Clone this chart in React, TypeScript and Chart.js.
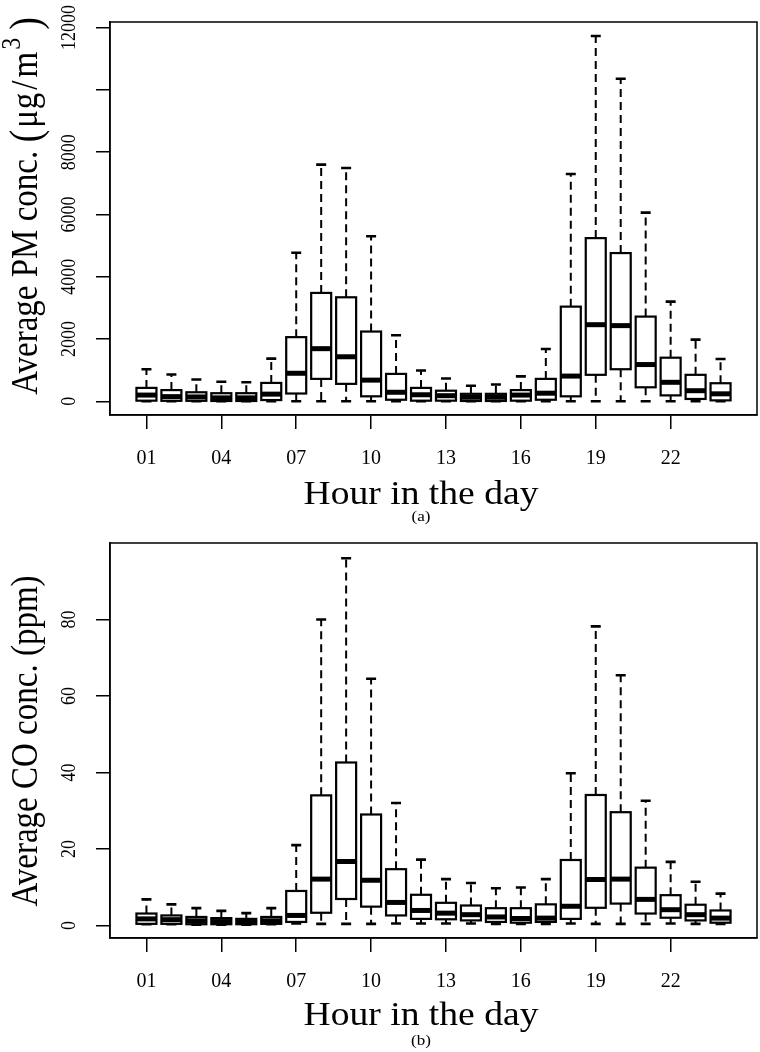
import React, { useEffect, useRef } from 'react';
import { Chart, registerables } from 'chart.js';

Chart.register(...registerables);

// ---------- data ----------
const hours = [1, 2, 3, 4, 5, 6, 7, 8, 9, 10, 11, 12, 13, 14, 15, 16, 17, 18, 19, 20, 21, 22, 23, 24];
const xTickHours = [1, 4, 7, 10, 13, 16, 19, 22];

// (a) PM concentration (µg/m3)
const pmMin = [0, 0, 0, 0, 0, 0, 0, 0, 0, 0, 0, 0, 0, 0, 0, 0, 0, 0, 0, 0, 0, 0, 0, 0];
const pmQ1 = [20, 15, 15, 10, 10, 40, 250, 720, 560, 160, 50, 20, 20, 10, 10, 20, 50, 160, 850, 1030, 450, 190, 75, 30];
const pmMedian = [200, 150, 140, 110, 110, 230, 900, 1690, 1430, 680, 290, 210, 180, 130, 130, 200, 260, 810, 2460, 2430, 1180, 610, 340, 240];
const pmQ3 = [430, 360, 290, 260, 260, 590, 2060, 3480, 3340, 2240, 880, 430, 340, 240, 240, 360, 720, 3040, 5240, 4760, 2720, 1400, 850, 580];
const pmMax = [1030, 860, 700, 630, 610, 1370, 4770, 7600, 7490, 5300, 2120, 990, 730, 500, 540, 800, 1680, 7300, 11730, 10360, 6060, 3200, 1980, 1360];
const pmTicks = [0, 2000, 4000, 6000, 8000, 10000, 12000];
const pmTickLabels = ['0', '2000', '4000', '6000', '8000', '', '12000'];

// (b) CO concentration (ppm)
const coMin = [0.3, 0.3, 0.2, 0.2, 0.2, 0.3, 0.5, 0.4, 0.4, 0.4, 0.5, 0.5, 0.5, 0.5, 0.4, 0.4, 0.4, 0.5, 0.4, 0.4, 0.4, 0.5, 0.4, 0.4];
const coQ1 = [0.4, 0.4, 0.3, 0.3, 0.3, 0.4, 0.9, 3.3, 6.9, 4.9, 2.6, 1.7, 1.6, 1.3, 0.9, 0.7, 0.9, 1.7, 4.6, 5.7, 3.1, 2.0, 1.3, 0.7];
const coMedian = [1.7, 1.5, 1.2, 1.0, 0.9, 1.2, 2.6, 12.1, 16.7, 11.8, 6.0, 3.9, 3.2, 2.8, 2.2, 1.8, 1.9, 5.0, 12.0, 12.1, 6.8, 4.1, 2.8, 1.9];
const coQ3 = [3.1, 2.6, 2.2, 1.9, 1.7, 2.2, 9.0, 34.0, 42.6, 29.0, 14.7, 8.0, 5.9, 5.2, 4.5, 4.5, 5.5, 17.1, 34.1, 29.6, 15.1, 7.9, 5.4, 3.9];
const coMax = [6.8, 5.5, 4.5, 3.8, 3.2, 4.5, 21.0, 80.0, 96.0, 64.5, 32.0, 17.2, 12.1, 11.1, 9.7, 9.9, 12.1, 39.8, 78.2, 65.4, 32.6, 16.6, 11.4, 8.3];
const coTicks = [0, 20, 40, 60, 80];
const coTickLabels = ['0', '20', '40', '60', '80'];

const xTitle = 'Hour in the day';
const FONT = '"Liberation Serif", "Times New Roman", serif';
const HSTRETCH = 1.14;

// title pieces: [text, fontSize, gapBefore, raise]
type Piece = [string, number, number, number];
const pmTitlePieces: Piece[] = [
  ['Average PM conc. ', 33, 0, 0],
  ['(', 38, 0, 1],
  ['μ', 33, 2, 0],
  ['g', 33, 1, 0],
  ['/', 33, 3, 0],
  ['m', 33, 3, 0],
  ['3', 24, 2, -12],
  [')', 38, 8, 1],
];
const coTitlePieces: Piece[] = [['Average CO conc. (ppm)', 33, 0, 0]];

type Panel = {
  min: number[]; q1: number[]; med: number[]; q3: number[]; max: number[];
  yMin: number; yMax: number; ticks: number[]; tickLabels: string[];
  title: Piece[]; sub: string;
  padTop: number; xAxisHeight: number; titleY: number; subY: number; yTitleCenter: number;
};

const panels: Panel[] = [
  {
    min: pmMin, q1: pmQ1, med: pmMedian, q3: pmQ3, max: pmMax,
    yMin: -440, yMax: 12180, ticks: pmTicks, tickLabels: pmTickLabels,
    title: pmTitlePieces, sub: '(a)',
    padTop: 22, xAxisHeight: 111, titleY: 495, subY: 517, yTitleCenter: 206,
  },
  {
    min: coMin, q1: coQ1, med: coMedian, q3: coQ3, max: coMax,
    yMin: -3.3, yMax: 100, ticks: coTicks, tickLabels: coTickLabels,
    title: coTitlePieces, sub: '(b)',
    padTop: 17, xAxisHeight: 114, titleY: 490, subY: 515, yTitleCenter: 215,
  },
];

function BoxChart({ p }: { p: Panel }) {
  const ref = useRef<HTMLCanvasElement>(null);
  useEffect(() => {
    if (!ref.current) return;
    const boxPlugin = {
      id: 'boxparts',
      afterDatasetsDraw(chart: any) {
        const ctx = chart.ctx;
        const xs = chart.scales.x;
        const ys = chart.scales.y;
        ctx.save();
        ctx.strokeStyle = '#000';
        hours.forEach((h, i) => {
          const x = xs.getPixelForValue(h);
          const yq1 = ys.getPixelForValue(p.q1[i]);
          const yq3 = ys.getPixelForValue(p.q3[i]);
          const ymin = ys.getPixelForValue(p.min[i]);
          const ymax = ys.getPixelForValue(p.max[i]);
          const ymed = ys.getPixelForValue(p.med[i]);
          ctx.lineWidth = 2;
          ctx.setLineDash([8, 5]);
          ctx.beginPath();
          ctx.moveTo(x, yq3);
          ctx.lineTo(x, ymax);
          ctx.moveTo(x, yq1);
          ctx.lineTo(x, ymin);
          ctx.stroke();
          ctx.setLineDash([]);
          ctx.lineWidth = 2.6;
          ctx.beginPath();
          ctx.moveTo(x - 5, ymax);
          ctx.lineTo(x + 5, ymax);
          ctx.moveTo(x - 5, ymin);
          ctx.lineTo(x + 5, ymin);
          ctx.stroke();
          ctx.lineWidth = 2.2;
          ctx.strokeRect(x - 10, yq3, 20, yq1 - yq3);
          ctx.lineWidth = 5;
          ctx.beginPath();
          ctx.moveTo(x - 10, ymed);
          ctx.lineTo(x + 10, ymed);
          ctx.stroke();
        });
        ctx.restore();
      },
      afterDraw(chart: any) {
        const ctx = chart.ctx;
        const a = chart.chartArea;
        const ys = chart.scales.y;
        ctx.save();
        ctx.strokeStyle = '#000';
        ctx.fillStyle = '#000';
        ctx.lineWidth = 1.5;
        ctx.strokeRect(a.left, a.top, a.right - a.left, a.bottom - a.top);
        ctx.font = `18px ${FONT}`;
        ctx.textAlign = 'center';
        ctx.textBaseline = 'middle';
        p.ticks.forEach((v, i) => {
          const lbl = p.tickLabels[i];
          if (!lbl) return;
          const y = ys.getPixelForValue(v);
          ctx.save();
          ctx.translate(a.left - 40, y);
          ctx.rotate(-Math.PI / 2);
          ctx.scale(1, HSTRETCH);
          ctx.fillText(lbl, 0, 0);
          ctx.restore();
        });
        // y title
        ctx.save();
        ctx.translate(27, p.yTitleCenter);
        ctx.rotate(-Math.PI / 2);
        ctx.scale(1, HSTRETCH);
        ctx.textAlign = 'left';
        let total = 0;
        p.title.forEach(([t, fs, gap]) => {
          ctx.font = `${fs}px ${FONT}`;
          total += gap + ctx.measureText(t).width;
        });
        let sx = -total / 2;
        p.title.forEach(([t, fs, gap, raise]) => {
          ctx.font = `${fs}px ${FONT}`;
          sx += gap;
          ctx.fillText(t, sx, raise);
          sx += ctx.measureText(t).width;
        });
        ctx.restore();
        // x title and panel label
        const cx = 421;
        ctx.textAlign = 'center';
        ctx.textBaseline = 'middle';
        ctx.save();
        ctx.translate(cx, p.titleY);
        ctx.scale(HSTRETCH, 1);
        ctx.font = `33px ${FONT}`;
        ctx.fillText(xTitle, 0, 0);
        ctx.restore();
        ctx.save();
        ctx.translate(cx, p.subY);
        ctx.scale(HSTRETCH, 1);
        ctx.font = `15px ${FONT}`;
        ctx.fillText(p.sub, 0, 0);
        ctx.restore();
        ctx.restore();
      },
    };

    const chart = new Chart(ref.current, {
      type: 'bar',
      data: {
        datasets: [
          {
            data: hours.map((h, i) => ({ x: h, y: [p.q1[i], p.q3[i]] })) as any,
            backgroundColor: '#ffffff',
            borderColor: '#000000',
            borderWidth: 0,
            borderSkipped: false,
            barThickness: 20,
            grouped: false,
          } as any,
        ],
      },
      options: {
        animation: false,
        responsive: false,
        maintainAspectRatio: false,
        events: [],
        layout: { padding: { top: p.padTop, right: 3, left: 0, bottom: 0 } },
        plugins: { legend: { display: false }, tooltip: { enabled: false } },
        scales: {
          x: {
            type: 'linear',
            min: -0.46,
            max: 25.46,
            offset: false,
            afterBuildTicks: (s: any) => { s.ticks = xTickHours.map((v) => ({ value: v })); },
            afterFit: (s: any) => { s.height = p.xAxisHeight; },
            ticks: {
              autoSkip: false,
              maxRotation: 0,
              minRotation: 0,
              padding: 18,
              color: '#000',
              font: { family: FONT, size: 20 },
              callback: (v: any) => String(v).padStart(2, '0'),
            },
            grid: { offset: false, drawOnChartArea: false, drawTicks: true, tickLength: 14, color: '#000', lineWidth: 1.5 },
            border: { display: true, color: '#000', width: 1.5 },
          },
          y: {
            type: 'linear',
            min: p.yMin,
            max: p.yMax,
            afterBuildTicks: (s: any) => { s.ticks = p.ticks.map((v) => ({ value: v })); },
            afterFit: (s: any) => { s.width = 110; },
            ticks: { display: false },
            grid: { drawOnChartArea: false, drawTicks: true, tickLength: 14, color: '#000', lineWidth: 1.5 },
            border: { display: true, color: '#000', width: 1.5 },
          },
        },
      },
      plugins: [boxPlugin],
    } as any);
    return () => chart.destroy();
  }, [p]);
  return <canvas ref={ref} width={760} height={526} style={{ display: 'block', width: 760, height: 526 }} />;
}

export default function App() {
  return (
    <div style={{ position: 'absolute', left: 0, top: 0, width: 760, height: 1052, background: '#fff' }}>
      {panels.map((p, i) => (
        <BoxChart key={i} p={p} />
      ))}
    </div>
  );
}
